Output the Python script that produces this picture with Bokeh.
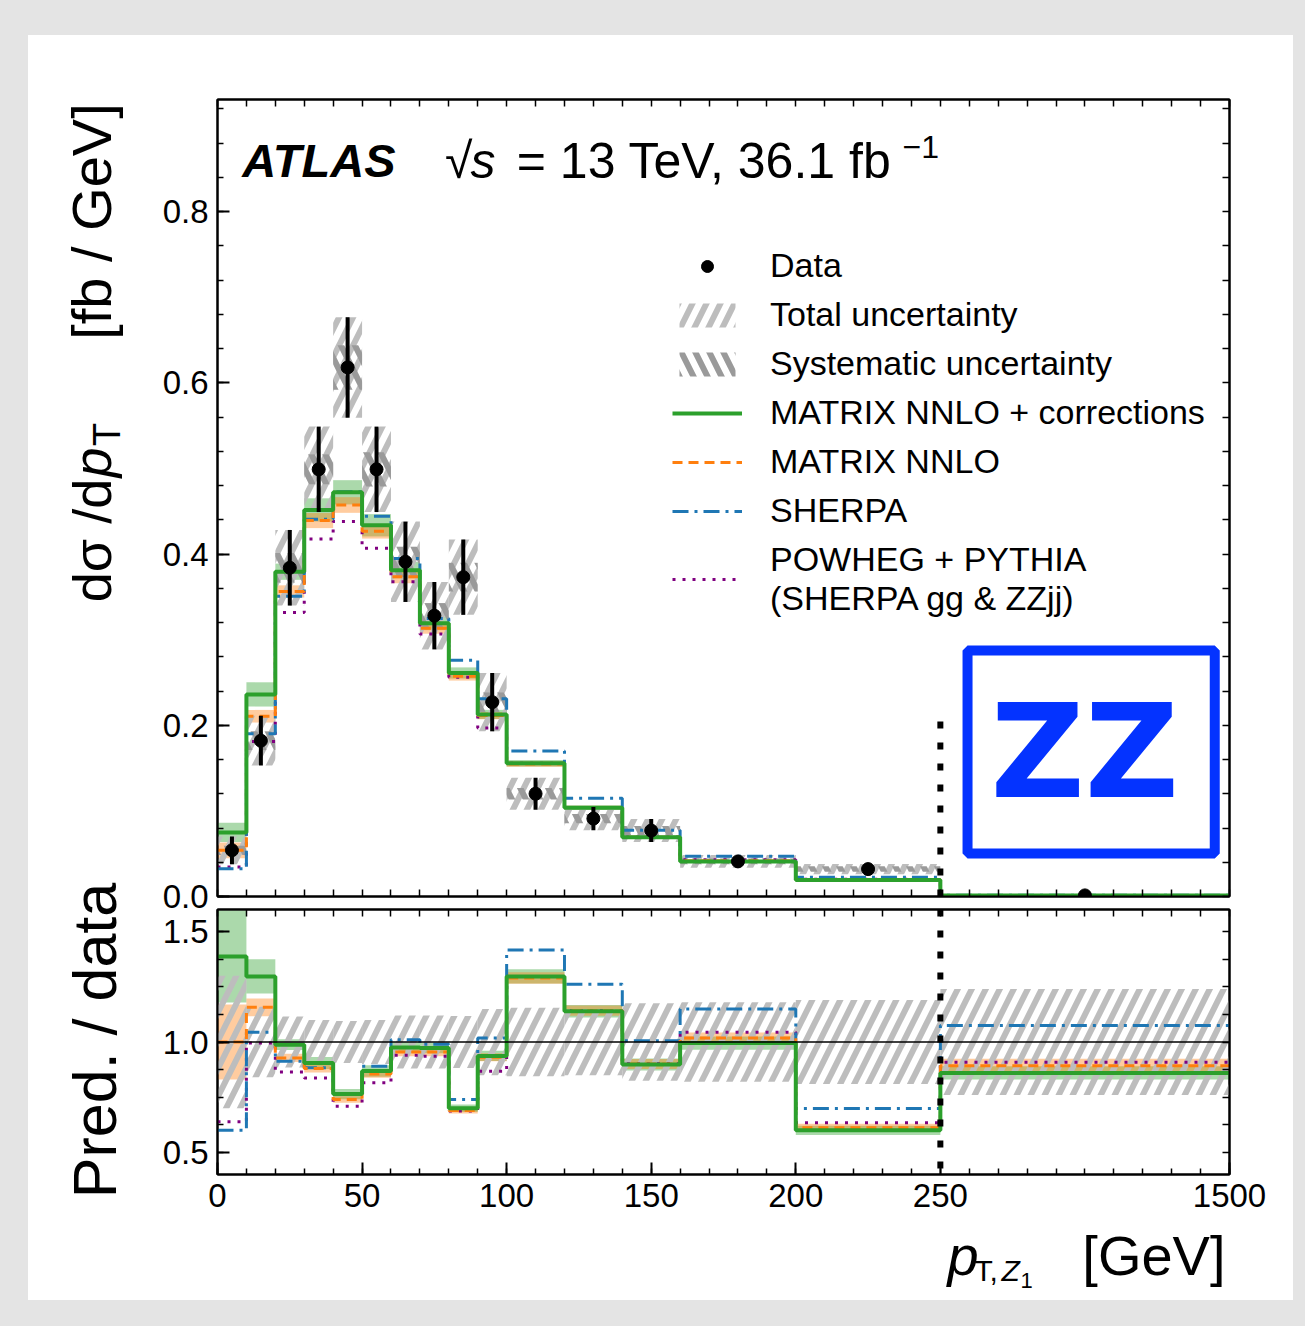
import numpy as np
from bokeh.plotting import figure
from bokeh.models import (Range1d, FixedTicker, LinearAxis, Legend, LegendItem, Label,
                          Span, BoxAnnotation, PrintfTickFormatter)
from bokeh.layouts import column, row
from bokeh.embed import file_html
from bokeh.resources import INLINE

# ---------------- data ----------------
bin_edges = [0, 10, 20, 30, 40, 50, 60, 70, 80, 90, 100, 120, 140, 160, 200, 250, 1500]
data_xsec = [0.054, 0.182, 0.384, 0.499, 0.618, 0.499, 0.391, 0.328, 0.373, 0.227,
             0.120, 0.091, 0.077, 0.041, 0.032, 0.0013]
data_rel_tot = [0.30, 0.16, 0.115, 0.10, 0.095, 0.10, 0.12, 0.12, 0.118, 0.15,
                0.155, 0.15, 0.175, 0.18, 0.19, 0.24]
data_rel_sys = [0.10, 0.06, 0.045, 0.035, 0.042, 0.04, 0.045, 0.045, 0.045, 0.05,
                0.055, 0.06, 0.07, 0.08, 0.10, 0.12]
ratio_matrix_corr = [1.387, 1.297, 0.988, 0.905, 0.764, 0.869, 0.975, 0.973, 0.700, 0.937,
                     1.297, 1.139, 0.898, 0.995, 0.600, 0.860]
ratio_matrix = [1.000, 1.157, 0.928, 0.880, 0.740, 0.855, 0.955, 0.955, 0.690, 0.931,
                1.290, 1.142, 0.900, 1.018, 0.612, 0.893]
ratio_sherpa = [0.600, 1.044, 0.913, 0.883, 0.765, 0.890, 1.010, 0.990, 0.740, 1.018,
                1.417, 1.262, 1.006, 1.149, 0.699, 1.075]
ratio_powheg = [0.639, 0.995, 0.864, 0.837, 0.709, 0.815, 0.940, 0.935, 0.687, 0.867,
                1.297, 1.142, 0.902, 1.044, 0.634, 0.908]
rel_unc_matrix_corr = [0.15, 0.06, 0.025, 0.03, 0.03, 0.03, 0.025, 0.025, 0.025, 0.025,
                       0.025, 0.025, 0.03, 0.03, 0.035, 0.035]
rel_unc_matrix = [0.17, 0.035, 0.02, 0.02, 0.02, 0.02, 0.02, 0.02, 0.02, 0.02,
                  0.02, 0.02, 0.025, 0.025, 0.03, 0.035]
x_tick_values = [0, 50, 100, 150, 200, 250, 1500]
main_y_ticks = [0.0, 0.2, 0.4, 0.6, 0.8]
ratio_y_ticks = [0.5, 1.0, 1.5]

# ---------------- styling constants ----------------
FONT = "Liberation Sans"
GREEN, ORANGE, BLUE, PURPLE = "#2ca02c", "#ff7f0e", "#1f77b4", "#800080"
ZZ_BLUE = "#0433ff"
SPLIT = 250          # axis becomes compressed beyond this value
TAIL_WIDTH = 100     # display width of the last (250-1500) bin

def disp(v):
    return v if v <= SPLIT else SPLIT + (v - SPLIT) * TAIL_WIDTH / (bin_edges[-1] - SPLIT)

edges_d = np.array([disp(e) for e in bin_edges], dtype=float)
left, right = edges_d[:-1], edges_d[1:]
centers = 0.5 * (left + right)
data = np.array(data_xsec)
rel_tot = np.array(data_rel_tot)
rel_sys = np.array(data_rel_sys)

preds = {
    "mc": (np.array(ratio_matrix_corr), np.array(rel_unc_matrix_corr)),
    "m": (np.array(ratio_matrix), np.array(rel_unc_matrix)),
    "sh": (np.array(ratio_sherpa), None),
    "pw": (np.array(ratio_powheg), None),
}
line_styles = {
    "mc": dict(line_color=GREEN, line_width=4, line_dash="solid"),
    "m": dict(line_color=ORANGE, line_width=3, line_dash="10 6"),
    "sh": dict(line_color=BLUE, line_width=3, line_dash="16 6 3 6"),
    "pw": dict(line_color=PURPLE, line_width=3, line_dash="3 7"),
}

x_range = Range1d(0, disp(bin_edges[-1]))
x_major = [disp(v) for v in x_tick_values]
x_minor = [float(v) for v in np.arange(0, disp(bin_edges[-1]) + 0.1, 10)]
x_overrides = {disp(v): str(v) for v in x_tick_values}


def style_axis(ax, labels=True):
    ax.major_tick_in = 12
    ax.major_tick_out = 0
    ax.minor_tick_in = 6 if labels else 7
    ax.minor_tick_out = 0
    ax.axis_line_width = 2
    ax.major_tick_line_width = 2
    ax.minor_tick_line_width = 1.5
    ax.major_label_text_font = FONT
    ax.major_label_text_color = "black"
    ax.major_label_text_font_size = "33px"
    ax.major_label_standoff = 9


def plain_ticker(major, minor):
    # tick marks only (no labels): every tick is drawn as a minor tick
    return FixedTicker(ticks=[], minor_ticks=sorted(set(list(major) + list(minor))))


def make_fig(y_range, frame_h, top, bottom):
    f = figure(frame_width=1012, frame_height=frame_h, x_range=x_range, y_range=y_range,
               output_backend="svg", toolbar_location=None,
               min_border_left=67, min_border_right=64,
               min_border_top=top, min_border_bottom=bottom)
    f.xgrid.visible = False
    f.ygrid.visible = False
    f.outline_line_color = "black"
    f.outline_line_width = 2
    f.background_fill_color = "white"
    f.border_fill_color = "white"
    return f


def add_axes(f, yticks, yminor, xlabels):
    if xlabels:
        f.xaxis.ticker = FixedTicker(ticks=x_major, minor_ticks=x_minor)
        f.xaxis.major_label_overrides = x_overrides
    else:
        f.xaxis.ticker = plain_ticker(x_major, x_minor)
    style_axis(f.xaxis[0], labels=xlabels)
    f.yaxis.ticker = FixedTicker(ticks=yticks, minor_ticks=yminor)
    f.yaxis.formatter = PrintfTickFormatter(format="%.1f")
    style_axis(f.yaxis[0], labels=True)
    top_ax = LinearAxis(ticker=plain_ticker(x_major, x_minor))
    style_axis(top_ax, labels=False)
    f.add_layout(top_ax, "above")
    right_ax = LinearAxis(ticker=plain_ticker(yticks, yminor))
    style_axis(right_ax, labels=False)
    f.add_layout(right_ax, "right")


def text_fig(x0, x1, y0, y1):
    # blank canvas whose data coordinates are page pixels (y grows downward)
    f = figure(width=x1 - x0, height=y1 - y0, x_range=Range1d(x0, x1), y_range=Range1d(y1, y0),
               output_backend="svg", toolbar_location=None, x_axis_location=None,
               y_axis_location=None, min_border=0, outline_line_color=None)
    f.grid.visible = False
    f.background_fill_color = "white"
    f.border_fill_color = "white"
    return f


def txt(x, y, text, size, style="normal", align="left", angle=0.0, font=FONT, color="black"):
    return Label(x=x, y=y, text=text, text_font=font, text_font_size=f"{size}px",
                 text_font_style=style, text_align=align, text_baseline="middle",
                 angle=angle, text_color=color)


# ---------------- main panel ----------------
p1 = make_fig(Range1d(0, 0.931), 797, 64, 22)
add_axes(p1, main_y_ticks, [round(0.04 * i, 2) for i in range(24)], xlabels=False)

for key, col in (("mc", GREEN), ("m", ORANGE)):
    r, u = preds[key]
    v = r * data
    p1.quad(left=left, right=right, bottom=v * (1 - u), top=v * (1 + u),
            fill_color=col, fill_alpha=0.4, line_alpha=0)

r_tot = p1.quad(left=left, right=right, bottom=data * (1 - rel_tot), top=data * (1 + rel_tot),
                fill_alpha=0, line_alpha=0, hatch_pattern="/", hatch_color="#bdbdbd",
                hatch_weight=6, hatch_scale=28)
r_sys = p1.quad(left=left, right=right, bottom=data * (1 - rel_sys), top=data * (1 + rel_sys),
                fill_alpha=0, line_alpha=0, hatch_pattern="\\", hatch_color="#9a9a9a",
                hatch_weight=6, hatch_scale=28)

step_r = {}
for key in ("pw", "sh", "m", "mc"):
    r, _ = preds[key]
    v = r * data
    step_r[key] = p1.step(x=edges_d, y=np.append(v, v[-1]), mode="after", **line_styles[key])

p1.segment(x0=centers, y0=data * (1 - rel_tot), x1=centers, y1=data * (1 + rel_tot),
           line_color="black", line_width=4)
r_data = p1.scatter(x=centers, y=data, size=13, color="black")

p1.line(x=[SPLIT, SPLIT], y=[0, 0.205], line_color="black", line_width=6, line_dash="7 14")

legend = Legend(items=[
    LegendItem(label="Data", renderers=[r_data]),
    LegendItem(label="Total uncertainty", renderers=[r_tot]),
    LegendItem(label="Systematic uncertainty", renderers=[r_sys]),
    LegendItem(label="MATRIX NNLO + corrections", renderers=[step_r["mc"]]),
    LegendItem(label="MATRIX NNLO", renderers=[step_r["m"]]),
    LegendItem(label="SHERPA", renderers=[step_r["sh"]]),
    LegendItem(label="POWHEG + PYTHIA\n(SHERPA gg & ZZjj)", renderers=[step_r["pw"]]),
], location=(455, 278), label_text_font=FONT, label_text_font_size="34px",
    label_text_color="black",
    glyph_width=70, glyph_height=30, label_height=30, label_standoff=28, spacing=10,
    padding=0, margin=0, border_line_alpha=0, background_fill_alpha=0)
p1.add_layout(legend)

# title line (centres of the cap height)
p1.add_layout(txt(8.6, 0.8596, "ATLAS", 47, style="bold italic"))
p1.add_layout(txt(78.7, 0.8596, "√", 50))
p1.add_layout(txt(87.5, 0.8596, "s", 50, style="italic"))
p1.add_layout(txt(103.5, 0.8596, "= 13 TeV, 36.1 fb", 50))
p1.add_layout(txt(236.9, 0.8759, "−1", 32))

# ZZ badge
p1.add_layout(BoxAnnotation(left=259.4, right=344.9, bottom=0.0502, top=0.2873,
                            fill_alpha=0, line_color=ZZ_BLUE, line_width=10, line_alpha=1))
p1.add_layout(txt(299.9, 0.1693, "ZZ", 130, style="bold", align="center",
                  font="DejaVu Sans", color=ZZ_BLUE))

# ---------------- ratio panel ----------------
p2 = make_fig(Range1d(0.4, 1.6), 265, 1, 50)
p2.border_fill_alpha = 0          # lets the main panel's "0.0" label show through the overlap
add_axes(p2, ratio_y_ticks, [0.5 + 0.125 * i for i in range(9)], xlabels=True)

for key, col in (("mc", GREEN), ("m", ORANGE)):
    r, u = preds[key]
    p2.quad(left=left, right=right, bottom=r * (1 - u), top=r * (1 + u),
            fill_color=col, fill_alpha=0.4, line_alpha=0)
p2.quad(left=left, right=right, bottom=1 - rel_tot, top=1 + rel_tot,
        fill_alpha=0, line_alpha=0, hatch_pattern="/", hatch_color="#bdbdbd",
        hatch_weight=6, hatch_scale=28)
p2.add_layout(Span(location=1.0, dimension="width", line_color="black", line_width=1.5))
for key in ("pw", "sh", "m", "mc"):
    r, _ = preds[key]
    p2.step(x=edges_d, y=np.append(r, r[-1]), mode="after", **line_styles[key])
p2.add_layout(Span(location=SPLIT, dimension="height", line_color="black", line_width=6,
                   line_dash="7 14"))

# ---------------- axis titles (canvases in page-pixel coordinates) ----------------
ang = np.pi / 2
yfig = text_fig(28, 150, 35, 1224)
yfig.add_layout(txt(91, 540, "dσ /d", 54, align="center", angle=ang))
yfig.add_layout(txt(91, 462, "p", 54, style="italic", align="center", angle=ang))
yfig.add_layout(txt(106, 434, "T", 38, align="center", angle=ang))
yfig.add_layout(txt(91, 221, "[fb / GeV]", 56, align="center", angle=ang))
yfig.add_layout(txt(94, 1040, "Pred. / data", 61, align="center", angle=ang))

xfig = text_fig(28, 1293, 1224, 1300)
xfig.add_layout(txt(947, 1255, "p", 56, style="italic"))
xfig.add_layout(txt(974, 1270, "T,", 30))
xfig.add_layout(txt(1001, 1270, "Z", 30, style="italic"))
xfig.add_layout(txt(1020, 1280, "1", 22))
xfig.add_layout(txt(1225, 1255, "[GeV]", 56, align="right"))

p2.margin = (-10, 0, 0, 0)
panels = column(p1, p2, spacing=0, styles={"background-color": "white"})
top = row(yfig, panels, spacing=0)
card = column(top, xfig, spacing=0, styles={"background-color": "white"})
card.margin = (35, 12, 26, 28)
layout = column(card, spacing=0, styles={"background-color": "#e4e4e4"})

open("out.html", "w").write(file_html(layout, INLINE))
